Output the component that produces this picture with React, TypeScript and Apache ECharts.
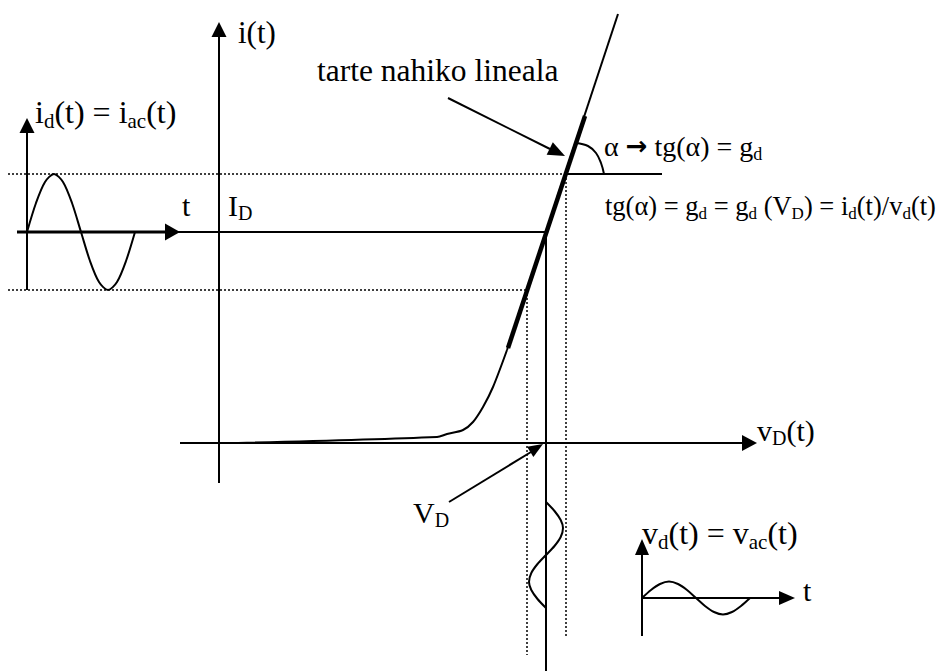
import React, { useEffect, useRef } from "react";
import * as echarts from "echarts";

const FONT = "Liberation Serif, Times New Roman, serif";
const ARROW_FONT = "DejaVu Sans, sans-serif";

// Diagram units: one unit = one pixel of the 942 x 671 figure (y grows downward)
const iAxis = [[219, 483], [219, 37]];
const vAxis = [[180, 443], [742, 443]];
const idLineThin = [[17, 232], [546, 232]];
const idLineThick = [[17, 232], [165, 232]];
const smallIAxis = [[27, 290], [27, 133]];
const iSine = [
  [27, 232], [36, 203], [45, 182], [54, 174], [63, 182], [72, 203], [81, 232],
  [90, 261], [99, 282], [108, 290], [117, 282], [126, 261], [135, 232],
];
const dotTop = [[8, 174], [566, 174]];
const dotBottom = [[8, 290], [527, 290]];
const dotRight = [[566, 174], [566, 636]];
const dotLeft = [[527, 290], [527, 655]];
const vdLine = [[546, 232], [546, 671]];
const diodeKnee = [[238, 443], [437, 437], [447, 434], [463, 430], [473, 422], [483, 407], [493, 387], [507, 350]];
const diodeLinear = [[507, 350], [618, 14]];
const tangent = [[508, 348], [585, 116]];
const alphaBase = [[566, 174], [662, 174]];
const alphaArc = [[576, 143], [588, 146], [596, 153], [601, 163], [604, 174]];
const tarteArrow = [[448, 98], [550, 149]];
const vdArrow = [[449, 502], [531, 452]];
const vSineVert = [
  [546, 502], [554.5, 511], [560.7, 520], [563, 528], [560.7, 537], [554.5, 546], [546, 555],
  [537.5, 564], [531.3, 573], [529, 582], [531.3, 590], [537.5, 599], [546, 608],
];
const smallVAxisV = [[642, 636], [642, 555]];
const smallVAxisH = [[642, 598], [779, 598]];
const vSine = [
  [642, 598], [651, 590], [660, 584], [669, 581.5], [678, 584], [687, 590], [696, 598],
  [705, 606], [714, 612], [723, 614.5], [732, 612], [741, 606], [750, 598],
];

// arrowheads: tip, direction, length, base width
const arrowHeads = [
  { tip: [219, 22], dir: [0, -1], len: 15, w: 15 },
  { tip: [757, 443], dir: [1, 0], len: 15, w: 16 },
  { tip: [27, 118], dir: [0, -1], len: 15, w: 15 },
  { tip: [180, 232], dir: [1, 0], len: 15, w: 17 },
  { tip: [565, 156], dir: [116, 57], len: 17, w: 14 },
  { tip: [543, 444], dir: [94, -58], len: 15, w: 12 },
  { tip: [642, 539], dir: [0, -1], len: 16, w: 14 },
  { tip: [795, 598], dir: [1, 0], len: 16, w: 14 },
];

// labels: [x, centre y, rich text, main size, sub size]
const labels: [number, number, string, number, number][] = [
  [238, 32, "{m|i(t)}", 31, 20],
  [35, 112, "{m|i}{s|d}{m|(t) = i}{s|ac}{m|(t)}", 32, 21],
  [182, 205, "{m|t}", 30, 20],
  [228, 205, "{m|I}{s|D}", 30, 20],
  [317, 70, "{m|tarte nahiko lineala}", 31.5, 20],
  [604, 146, "{m|α }{a|→}{m| tg(α) = g}{s|d}", 28, 18],
  [605, 206, "{m|tg(α) = g}{s|d}{m| = g}{s|d}{m| (V}{s|D}{m|) = i}{s|d}{m|(t)/v}{s|d}{m|(t)}", 26.5, 17],
  [757, 430, "{m|v}{s|D}{m|(t)}", 30, 20],
  [413, 512, "{m|V}{s|D}", 30, 20],
  [642, 533, "{m|v}{s|d}{m|(t) = v}{s|ac}{m|(t)}", 32, 21],
  [803, 590, "{m|t}", 30, 20],
];

const seg = (data: number[][], width: number, extra: any = {}) => ({
  type: "line",
  data,
  symbol: "none",
  showSymbol: false,
  clip: false,
  silent: true,
  smooth: extra.smooth || false,
  lineStyle: { color: "#000", width, type: extra.type || "solid", cap: "butt" },
  z: extra.z || 2,
});

export default function App() {
  const ref = useRef<HTMLDivElement>(null);
  useEffect(() => {
    if (!ref.current) return;
    const chart = echarts.init(ref.current, undefined, { renderer: "svg" });
    const dotted = { type: [2, 2] };
    const heads = arrowHeads.map((a) => {
      const n = Math.hypot(a.dir[0], a.dir[1]);
      const ux = a.dir[0] / n;
      const uy = a.dir[1] / n;
      const cx = a.tip[0] - (ux * a.len) / 2;
      const cy = a.tip[1] - (uy * a.len) / 2;
      const rot = (Math.atan2(-uy, ux) * 180) / Math.PI - 90;
      return { value: [cx, cy], symbolSize: [a.w, a.len], symbolRotate: rot };
    });
    const graphics = labels.map(([x, y, text, fs, ss]) => ({
      type: "text",
      x,
      y,
      silent: true,
      style: {
        text,
        align: "left",
        verticalAlign: "middle",
        fill: "#000",
        fontSize: fs,
        fontFamily: FONT,
        rich: {
          m: { fontSize: fs, fontFamily: FONT, lineHeight: Math.round(fs * 1.2), fill: "#000" },
          s: { fontSize: ss, fontFamily: FONT, lineHeight: ss, verticalAlign: "bottom", fill: "#000" },
          a: { fontSize: fs - 2, fontFamily: ARROW_FONT, fontWeight: "bold", lineHeight: Math.round(fs * 1.2), fill: "#000" },
        },
      },
    }));
    chart.setOption({
      animation: false,
      backgroundColor: "#fff",
      grid: { left: 0, top: 0, right: 0, bottom: 0 },
      xAxis: { type: "value", min: 0, max: 942, show: false },
      yAxis: { type: "value", min: 0, max: 671, inverse: true, show: false },
      series: [
        seg(dotTop, 1.5, dotted),
        seg(dotBottom, 1.5, dotted),
        seg(dotRight, 1.5, dotted),
        seg(dotLeft, 1.5, dotted),
        seg(iAxis, 2),
        seg(vAxis, 2),
        seg(idLineThin, 2),
        seg(idLineThick, 3),
        seg(smallIAxis, 2),
        seg(iSine, 2, { smooth: 0.3 }),
        seg(vdLine, 2),
        seg(diodeKnee, 2, { smooth: 0.3 }),
        seg(diodeLinear, 2),
        seg(tangent, 4.5),
        seg(alphaBase, 2),
        seg(alphaArc, 2, { smooth: 0.4 }),
        seg(tarteArrow, 2),
        seg(vdArrow, 2),
        seg(vSineVert, 2, { smooth: 0.3 }),
        seg(smallVAxisV, 2),
        seg(smallVAxisH, 2),
        seg(vSine, 2, { smooth: 0.3 }),
        {
          type: "scatter",
          data: heads,
          symbol: "triangle",
          silent: true,
          clip: false,
          itemStyle: { color: "#000", opacity: 1 },
          z: 5,
        },
      ],
      graphic: graphics,
    });
    return () => chart.dispose();
  }, []);
  return (
    <div
      ref={ref}
      style={{ position: "absolute", left: 0, top: 0, width: 942, height: 671, background: "#fff" }}
    />
  );
}
